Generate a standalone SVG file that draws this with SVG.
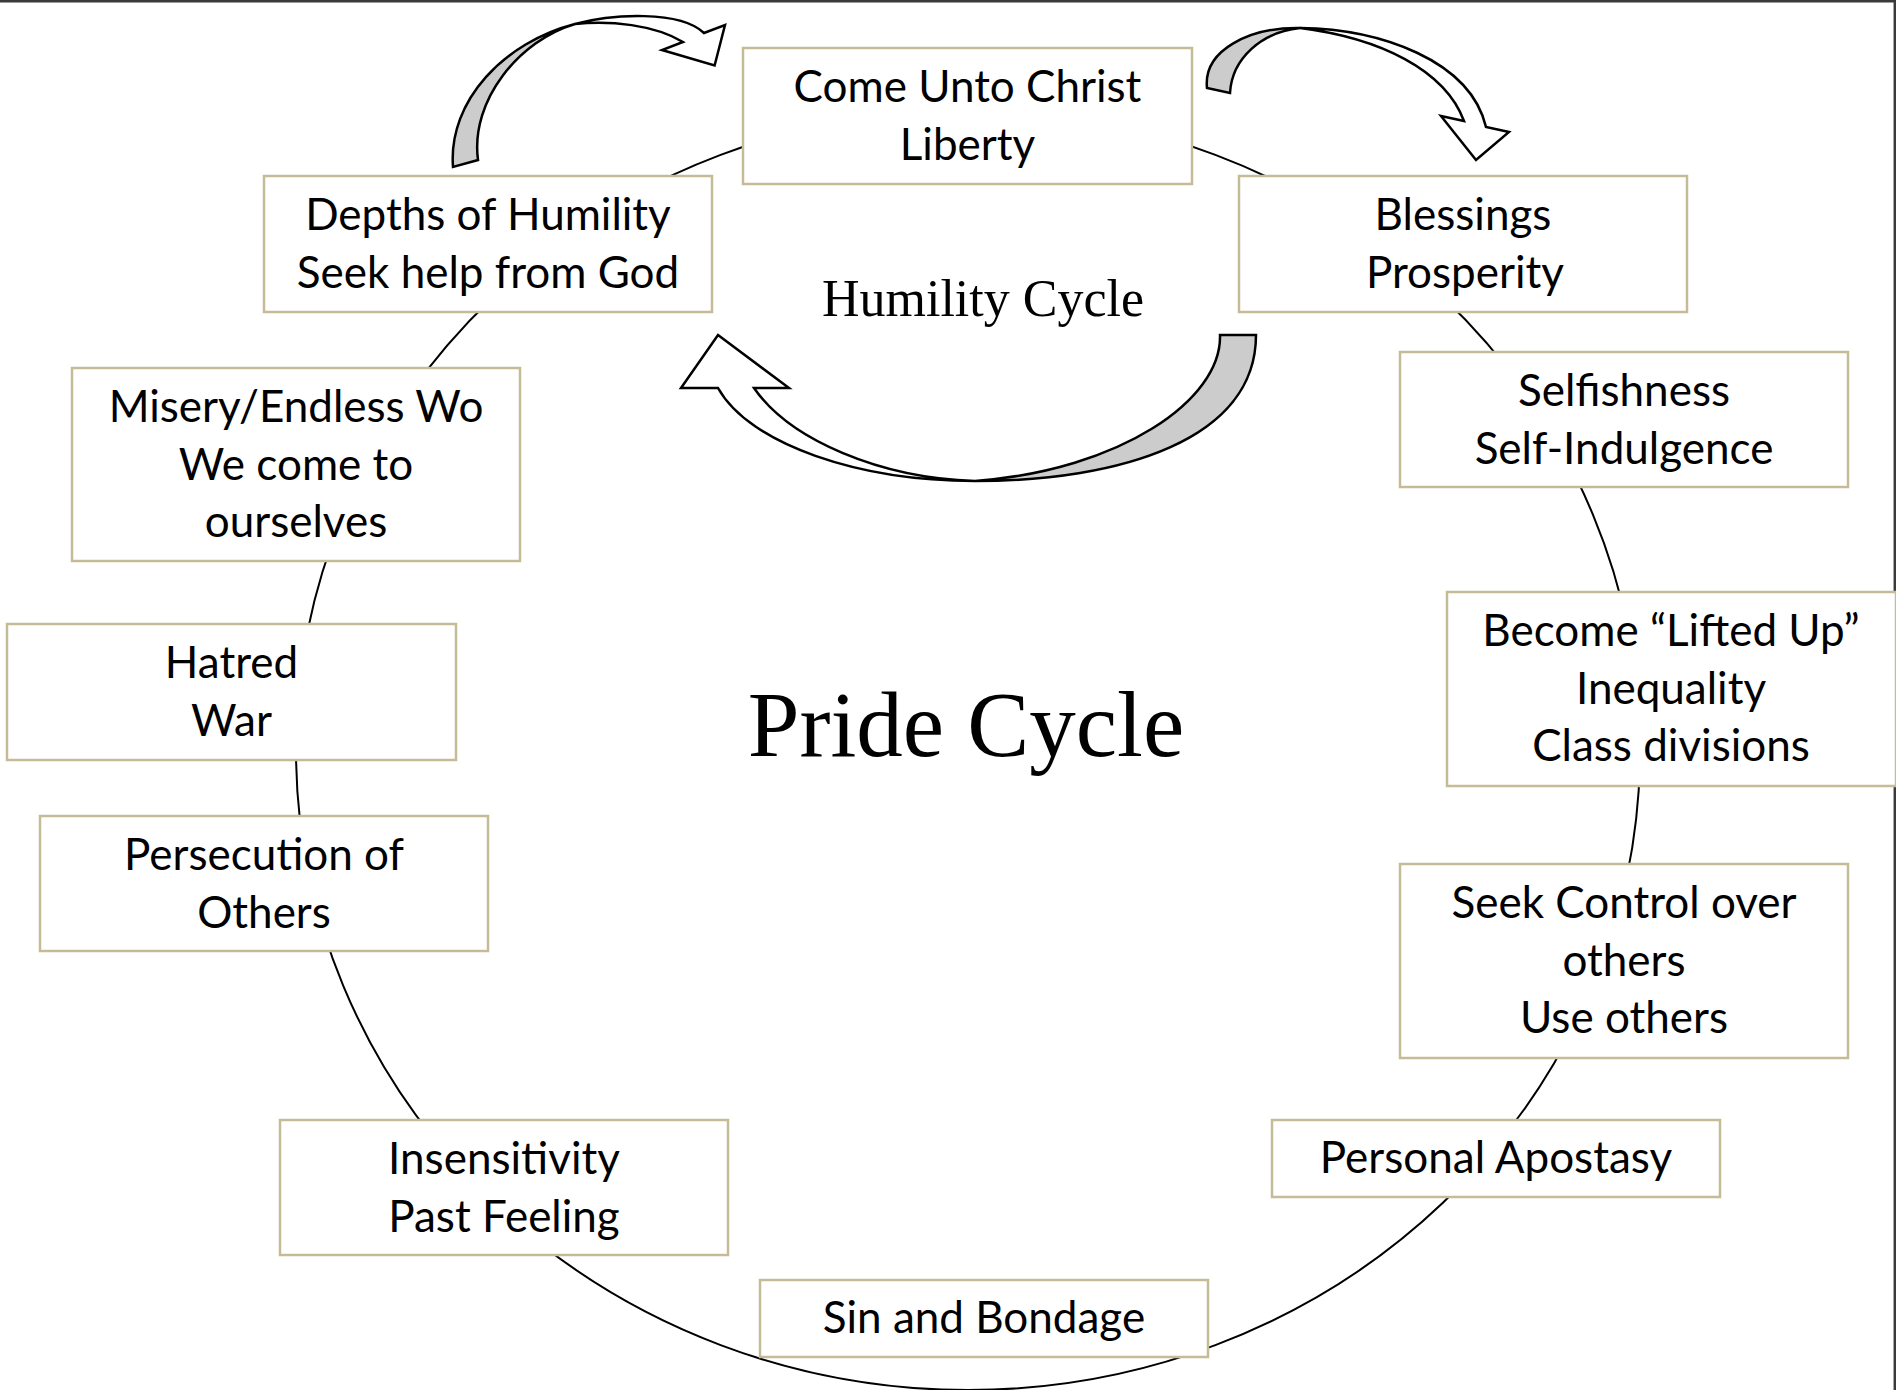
<svg xmlns="http://www.w3.org/2000/svg" width="1896" height="1390" viewBox="0 0 1896 1390">
<style>
.box{fill:#fff;stroke:#c4bc96;stroke-width:2.5}
.t{font-family:Lato,"Open Sans",sans-serif;font-size:44px;fill:#000;text-anchor:middle}
.arw{fill:#fff;stroke:#000;stroke-width:2.5;stroke-linejoin:miter}
.shd{fill:#cccccc;stroke:#000;stroke-width:2.5}
.ttl{font-family:"Liberation Serif","Times New Roman",serif;fill:#000;text-anchor:middle}
</style>
<rect x="0" y="0" width="1896" height="1390" fill="#fff"/>
<g id="frame" stroke="#3a3a3a" stroke-width="2.5">
<line x1="0" y1="1.2" x2="1896" y2="1.2"/>
<line x1="1894.8" y1="0" x2="1894.8" y2="1390"/>
</g>
<g id="connectors">
<ellipse cx="968" cy="750" rx="672" ry="640" fill="none" stroke="#000" stroke-width="2"/>
<g id="arrow-top-left">
<path class="shd" d="M453,167 C448,100 505,42 575,24 C520,40 470,100 478,160 Z"/>
<path class="arw" d="M575,24 C612,14 680,10 704,33 L725,25 L714.6,65.5 L662,50 L683,42 C655,25 610,20 575,24 Z"/>
</g>
<g id="arrow-top-right">
<path class="shd" d="M1207,88 C1203,50 1250,27 1300,28 C1262,32 1232,58 1230,93 Z"/>
<path class="arw" d="M1300,28 C1380,29 1470,60 1486,127 L1509,132 L1476,160 L1441,116 L1464,121 C1445,70 1380,38 1300,28 Z"/>
</g>
<g id="arrow-bottom">
<path class="shd" d="M1256,335 C1256,440 1120,481 975,481 C1120,470 1222,400 1220,335 Z"/>
<path class="arw" d="M975,481 C860,481 750,445 718,388 L681,388 L718,335 L789,388 L754,388 C790,440 880,478 975,481 Z"/>
</g>
</g>
<g id="n-come"><rect class="box" x="743" y="48" width="449" height="136"/><text class="t" x="967.5" y="102">Come Unto Christ</text><text class="t" x="967.5" y="159.5">Liberty</text></g>
<g id="n-blessings"><rect class="box" x="1239" y="176" width="448" height="136"/><text class="t" x="1463" y="230">Blessings</text><text class="t" x="1465" y="287.5">Prosperity</text></g>
<g id="n-depths"><rect class="box" x="264" y="176" width="448" height="136"/><text class="t" x="488" y="230">Depths of Humility</text><text class="t" x="488" y="287.5">Seek help from God</text></g>
<g id="n-misery"><rect class="box" x="72" y="368" width="448" height="193"/><text class="t" x="296" y="422">Misery/Endless Wo</text><text class="t" x="296" y="479.5">We come to</text><text class="t" x="296" y="537">ourselves</text></g>
<g id="n-selfishness"><rect class="box" x="1400" y="352" width="448" height="135"/><text class="t" x="1624" y="406">Selfishness</text><text class="t" x="1624" y="463.5">Self-Indulgence</text></g>
<g id="n-lifted"><rect class="box" x="1447" y="592" width="449" height="194"/><text class="t" x="1671" y="646">Become “Lifted Up”</text><text class="t" x="1671" y="703.5">Inequality</text><text class="t" x="1671" y="761">Class divisions</text></g>
<g id="n-hatred"><rect class="box" x="7" y="624" width="449" height="136"/><text class="t" x="231.5" y="678">Hatred</text><text class="t" x="231.5" y="735.5">War</text></g>
<g id="n-persecution"><rect class="box" x="40" y="816" width="448" height="135"/><text class="t" x="264" y="870">Persecution of</text><text class="t" x="264" y="927.5">Others</text></g>
<g id="n-control"><rect class="box" x="1400" y="864" width="448" height="194"/><text class="t" x="1624" y="918">Seek Control over</text><text class="t" x="1624" y="975.5">others</text><text class="t" x="1624" y="1033">Use others</text></g>
<g id="n-apostasy"><rect class="box" x="1272" y="1120" width="448" height="77"/><text class="t" x="1496" y="1173">Personal Apostasy</text></g>
<g id="n-insensitivity"><rect class="box" x="280" y="1120" width="448" height="135"/><text class="t" x="504" y="1174">Insensitivity</text><text class="t" x="504" y="1231.5">Past Feeling</text></g>
<g id="n-sin"><rect class="box" x="760" y="1280" width="448" height="77"/><text class="t" x="984" y="1333">Sin and Bondage</text></g>
<g id="titles">
<text class="ttl" x="983" y="316" font-size="52">Humility Cycle</text>
<text class="ttl" x="966" y="756" font-size="93">Pride Cycle</text>
</g>
</svg>
